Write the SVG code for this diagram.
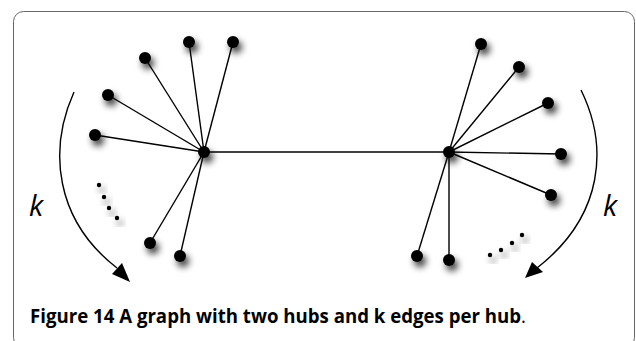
<svg xmlns="http://www.w3.org/2000/svg" width="636" height="341" viewBox="0 0 636 341">
<defs>
<filter id="sh" x="-150%" y="-150%" width="400%" height="400%">
<feGaussianBlur in="SourceAlpha" stdDeviation="3.5"/>
<feOffset dx="3" dy="5" result="b"/>
<feComponentTransfer><feFuncA type="linear" slope="0.8"/></feComponentTransfer>
<feMerge><feMergeNode/><feMergeNode in="SourceGraphic"/></feMerge>
</filter>
<style>
.e{stroke:#000;stroke-width:1.4;fill:none}
.n{fill:#000;filter:url(#sh)}
.arc{stroke:#000;stroke-width:1.4;fill:none}
.k{font-family:"Open Sans","Liberation Sans",sans-serif;font-style:italic;font-size:29px;fill:#000}
.cap{font-family:"Open Sans","Liberation Sans",sans-serif;font-size:19.5px;fill:#000}
</style>
</defs>
<rect x="13.5" y="11.5" width="621" height="336" rx="10" fill="#fff" stroke="#666" stroke-width="1"/>
<g id="connectors">
<line class="e" x1="204" y1="152" x2="449" y2="152"/>
<line class="e" x1="204" y1="152" x2="145" y2="58"/>
<line class="e" x1="204" y1="152" x2="189" y2="42"/>
<line class="e" x1="204" y1="152" x2="233" y2="42"/>
<line class="e" x1="204" y1="152" x2="108" y2="95"/>
<line class="e" x1="204" y1="152" x2="95" y2="135"/>
<line class="e" x1="204" y1="152" x2="150" y2="243"/>
<line class="e" x1="204" y1="152" x2="180" y2="256"/>
<line class="e" x1="449" y1="152" x2="481" y2="44"/>
<line class="e" x1="449" y1="152" x2="519" y2="67"/>
<line class="e" x1="449" y1="152" x2="548" y2="103"/>
<line class="e" x1="449" y1="152" x2="561" y2="154"/>
<line class="e" x1="449" y1="152" x2="551" y2="195"/>
<line class="e" x1="449" y1="152" x2="417" y2="256"/>
<line class="e" x1="449" y1="152" x2="449" y2="260"/>
</g>
<g id="hub-left"><circle class="n" cx="204" cy="152" r="6"/></g>
<g id="hub-right"><circle class="n" cx="449" cy="152" r="6"/></g>
<g id="left-nodes">
<circle class="n" cx="145" cy="58" r="6"/>
<circle class="n" cx="189" cy="42" r="6"/>
<circle class="n" cx="233" cy="42" r="6"/>
<circle class="n" cx="108" cy="95" r="6"/>
<circle class="n" cx="95" cy="135" r="6"/>
<circle class="n" cx="150" cy="243" r="6"/>
<circle class="n" cx="180" cy="256" r="6"/>
</g>
<g id="left-dots">
<circle class="n" cx="99" cy="185" r="2.2"/>
<circle class="n" cx="104" cy="197" r="2.2"/>
<circle class="n" cx="109" cy="208" r="2.2"/>
<circle class="n" cx="117" cy="218" r="2.2"/>
</g>
<g id="right-nodes">
<circle class="n" cx="481" cy="44" r="6"/>
<circle class="n" cx="519" cy="67" r="6"/>
<circle class="n" cx="548" cy="103" r="6"/>
<circle class="n" cx="561" cy="154" r="6"/>
<circle class="n" cx="551" cy="195" r="6"/>
<circle class="n" cx="417" cy="256" r="6"/>
<circle class="n" cx="449" cy="260" r="6"/>
</g>
<g id="right-dots">
<circle class="n" cx="490" cy="255" r="2.2"/>
<circle class="n" cx="501" cy="250" r="2.2"/>
<circle class="n" cx="512" cy="243" r="2.2"/>
<circle class="n" cx="522" cy="235" r="2.2"/>
</g>
<g id="arc-left">
<path class="arc" d="M74,92 C48,150 55,220 117,268"/>
<polygon points="130,282 112,274 122,263" fill="#000"/>
<text class="k" x="29" y="216">k</text>
</g>
<g id="arc-right">
<path class="arc" d="M581,90 C608,145 605,215 537,268"/>
<polygon points="525,278 532,262 543,272" fill="#000"/>
<text class="k" x="603" y="216">k</text>
</g>
<g id="caption">
<text class="cap" x="30" y="323" textLength="496" lengthAdjust="spacingAndGlyphs"><tspan font-weight="bold">Figure 14 A graph with two hubs and k edges per hub</tspan><tspan>.</tspan></text>
</g>
</svg>
